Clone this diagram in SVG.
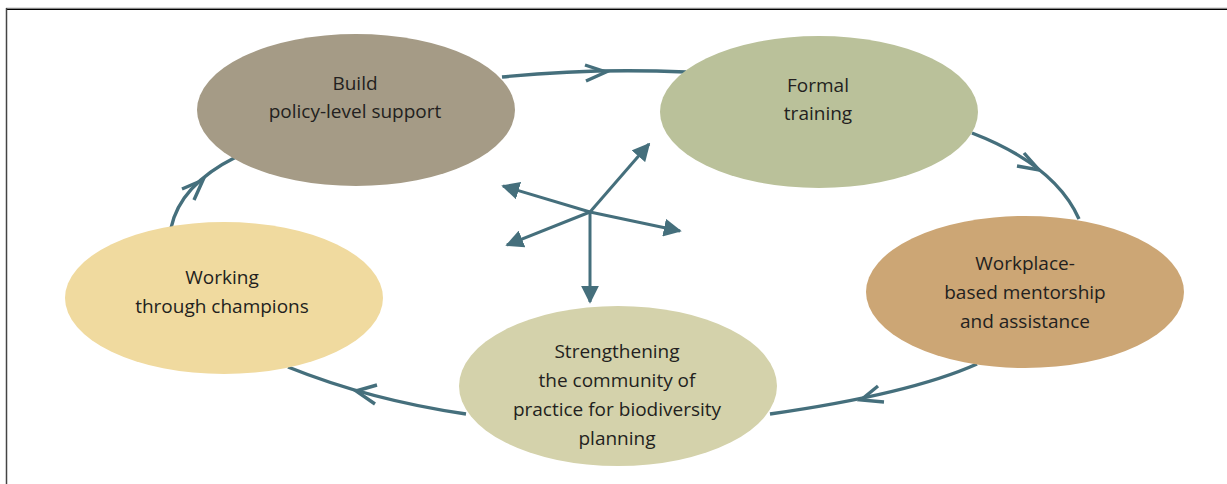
<svg xmlns="http://www.w3.org/2000/svg" width="1227" height="484" viewBox="0 0 1227 484">
<defs>
<style>
.lbl{font-family:"Open Sans","Liberation Sans",sans-serif;font-size:19px;fill:#231f20;text-anchor:middle}
.cyc{fill:none;stroke:#456f7c;stroke-width:3.4}
.chev{fill:none;stroke:#456f7c;stroke-width:3.4}
.ray{fill:none;stroke:#456f7c;stroke-width:3}
</style>
<marker id="tri" viewBox="0 0 10 10" refX="9" refY="5" markerWidth="6" markerHeight="6" markerUnits="strokeWidth" orient="auto">
<path d="M0,0 L10,5 L0,10 z" fill="#456f7c"/>
</marker>
</defs>
<rect width="1227" height="484" fill="#fff"/>
<g id="frame">
<line x1="6" y1="8.5" x2="1227" y2="8.5" stroke="#888" stroke-width="1.5"/>
<line x1="6" y1="9.5" x2="1227" y2="9.5" stroke="#000" stroke-width="1"/>
<line x1="6.5" y1="8" x2="6.5" y2="484" stroke="#444" stroke-width="1.5"/>
</g>
<g id="connectors">
<path class="cyc" d="M502,77 Q590,68 686,72"/>
<path class="chev" d="M585,65 L606,72 L586,81"/>
<path class="cyc" d="M972,133 Q1055,165 1079,219"/>
<path class="chev" d="M1024,153 L1039,170 L1017,166"/>
<path class="cyc" d="M977,364 Q910,394 770,414"/>
<path class="chev" d="M878,386 L861,400 L884,402"/>
<path class="cyc" d="M466,414 Q370,400 288,367"/>
<path class="chev" d="M377,385 L356,391 L375,404"/>
<path class="cyc" d="M171,228 Q180,185 236,157"/>
<path class="chev" d="M182,189 L203,180 L194,200"/>
<path class="ray" d="M590,212 L649,144" marker-end="url(#tri)"/>
<path class="ray" d="M590,212 L503,186" marker-end="url(#tri)"/>
<path class="ray" d="M590,212 L680,231" marker-end="url(#tri)"/>
<path class="ray" d="M590,212 L507,245" marker-end="url(#tri)"/>
<path class="ray" d="M590,212 L590,302" marker-end="url(#tri)"/>
</g>
<g id="build">
<ellipse cx="356" cy="110" rx="159" ry="76" fill="#a59b86"/>
<text class="lbl" x="355" y="90">Build</text>
<text class="lbl" x="355" y="118">policy-level support</text>
</g>
<g id="formal">
<ellipse cx="819" cy="112" rx="159" ry="76" fill="#bac19a"/>
<text class="lbl" x="818" y="92">Formal</text>
<text class="lbl" x="818" y="120">training</text>
</g>
<g id="workplace">
<ellipse cx="1025" cy="292" rx="159" ry="76" fill="#cca675"/>
<text class="lbl" x="1025" y="270">Workplace-</text>
<text class="lbl" x="1025" y="299">based mentorship</text>
<text class="lbl" x="1025" y="328">and assistance</text>
</g>
<g id="community">
<ellipse cx="618" cy="386" rx="159" ry="80" fill="#d4d2ab"/>
<text class="lbl" x="617" y="358">Strengthening</text>
<text class="lbl" x="617" y="387">the community of</text>
<text class="lbl" x="617" y="416">practice for biodiversity</text>
<text class="lbl" x="617" y="445">planning</text>
</g>
<g id="champions">
<ellipse cx="224" cy="298" rx="159" ry="76" fill="#f0da9f"/>
<text class="lbl" x="222" y="284">Working</text>
<text class="lbl" x="222" y="313">through champions</text>
</g>
</svg>
